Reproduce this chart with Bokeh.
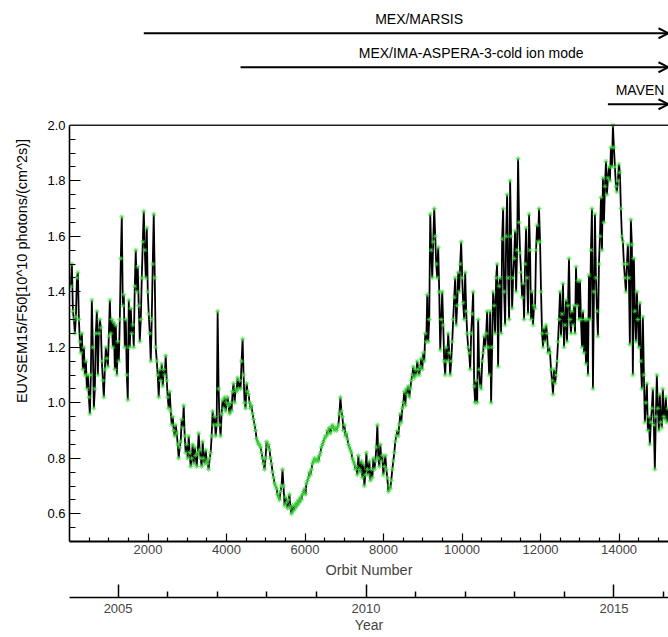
from bokeh.plotting import figure
from bokeh.models import (Range1d, LinearAxis, FixedTicker, PrintfTickFormatter,
                          Span, Arrow, OpenHead, Label, ColumnDataSource)
from bokeh.embed import file_html
from bokeh.resources import INLINE

# ---------------- data ----------------
orbit = [
    36, 61, 87, 112, 138, 163, 189, 214, 239, 265,
    290, 315, 341, 366, 392, 417, 443, 468, 493, 519,
    544, 569, 595, 620, 646, 671, 697, 722, 747, 773,
    799, 824, 850, 875, 901, 926, 952, 977, 1002, 1028,
    1053, 1078, 1104, 1129, 1155, 1180, 1206, 1231, 1256, 1282,
    1307, 1332, 1358, 1383, 1409, 1434, 1460, 1485, 1510, 1536,
    1561, 1586, 1612, 1637, 1663, 1688, 1714, 1739, 1764, 1790,
    1816, 1841, 1867, 1892, 1918, 1943, 1969, 1994, 2019, 2045,
    2070, 2095, 2121, 2146, 2172, 2197, 2223, 2248, 2273, 2299,
    2324, 2349, 2375, 2400, 2426, 2451, 2477, 2502, 2527, 2553,
    2579, 2604, 2630, 2655, 2681, 2706, 2732, 2757, 2782, 2808,
    2833, 2858, 2884, 2909, 2935, 2960, 2986, 3011, 3036, 3062,
    3087, 3112, 3138, 3163, 3189, 3214, 3240, 3265, 3290, 3316,
    3342, 3367, 3393, 3418, 3444, 3469, 3495, 3520, 3545, 3571,
    3596, 3621, 3647, 3672, 3698, 3723, 3749, 3774, 3799, 3825,
    3850, 3875, 3901, 3926, 3952, 3977, 4003, 4028, 4053, 4079,
    4104, 4129, 4155, 4180, 4206, 4231, 4257, 4282, 4307, 4333,
    4359, 4384, 4410, 4435, 4461, 4486, 4512, 4537, 4562, 4588,
    4613, 4638, 4664, 4689, 4715, 4740, 4766, 4791, 4816, 4842,
    4867, 4892, 4918, 4943, 4969, 4994, 5020, 5045, 5070, 5096,
    5122, 5147, 5173, 5198, 5224, 5249, 5275, 5300, 5325, 5351,
    5376, 5401, 5427, 5452, 5478, 5503, 5529, 5554, 5579, 5605,
    5630, 5655, 5681, 5706, 5732, 5757, 5783, 5808, 5833, 5859,
    5885, 5910, 5936, 5961, 5987, 6012, 6038, 6063, 6088, 6114,
    6139, 6164, 6190, 6215, 6241, 6266, 6292, 6317, 6342, 6368,
    6393, 6418, 6444, 6469, 6495, 6520, 6546, 6571, 6596, 6622,
    6647, 6672, 6698, 6723, 6749, 6774, 6800, 6825, 6850, 6876,
    6902, 6927, 6953, 6978, 7004, 7029, 7055, 7080, 7105, 7131,
    7156, 7181, 7207, 7232, 7258, 7283, 7309, 7334, 7359, 7385,
    7410, 7435, 7461, 7486, 7512, 7537, 7563, 7588, 7613, 7639,
    7665, 7690, 7716, 7741, 7767, 7792, 7818, 7843, 7868, 7894,
    7919, 7944, 7970, 7995, 8021, 8046, 8072, 8097, 8122, 8148,
    8173, 8198, 8224, 8249, 8275, 8300, 8326, 8351, 8376, 8402,
    8428, 8453, 8479, 8504, 8530, 8555, 8581, 8606, 8631, 8657,
    8682, 8707, 8733, 8758, 8784, 8809, 8835, 8860, 8885, 8911,
    8936, 8961, 8987, 9012, 9038, 9063, 9089, 9114, 9139, 9165,
    9190, 9215, 9241, 9266, 9292, 9317, 9343, 9368, 9393, 9419,
    9445, 9470, 9496, 9521, 9547, 9572, 9598, 9623, 9648, 9674,
    9699, 9724, 9750, 9775, 9801, 9826, 9852, 9877, 9902, 9928,
    9953, 9978, 10004, 10029, 10055, 10080, 10106, 10131, 10156, 10182,
    10208, 10233, 10259, 10284, 10310, 10335, 10361, 10386, 10411, 10437,
    10462, 10487, 10513, 10538, 10564, 10589, 10615, 10640, 10665, 10691,
    10716, 10741, 10767, 10792, 10818, 10843, 10869, 10894, 10919, 10945,
    10971, 10996, 11022, 11047, 11073, 11098, 11124, 11149, 11174, 11200,
    11225, 11250, 11276, 11301, 11327, 11352, 11378, 11403, 11428, 11454,
    11479, 11504, 11530, 11555, 11581, 11606, 11632, 11657, 11682, 11708,
    11733, 11758, 11784, 11809, 11835, 11860, 11886, 11911, 11936, 11962,
    11988, 12013, 12039, 12064, 12090, 12115, 12141, 12166, 12191, 12217,
    12242, 12267, 12293, 12318, 12344, 12369, 12395, 12420, 12445, 12471,
    12496, 12521, 12547, 12572, 12598, 12623, 12649, 12674, 12699, 12725,
    12751, 12776, 12802, 12827, 12853, 12878, 12904, 12929, 12954, 12980,
    13005, 13030, 13056, 13081, 13107, 13132, 13158, 13183, 13208, 13234,
    13259, 13284, 13310, 13335, 13361, 13386, 13412, 13437, 13462, 13488,
    13514, 13539, 13565, 13590, 13616, 13641, 13667, 13692, 13717, 13743,
    13768, 13793, 13819, 13844, 13870, 13895, 13921, 13946, 13971, 13997,
    14022, 14047, 14073, 14098, 14124, 14149, 14175, 14200, 14225, 14251,
    14276, 14301, 14327, 14352, 14378, 14403, 14429, 14454, 14479, 14505,
    14531, 14556, 14582, 14607, 14633, 14658, 14684, 14709, 14734, 14760,
    14785, 14810, 14836, 14861, 14887, 14912, 14938, 14963, 14988, 15014,
    15039, 15064, 15090, 15115, 15141, 15166, 15192, 15217, 15242,
]

euv = [
    1.42, 1.50, 1.33, 1.30, 1.25, 1.31, 1.45, 1.47, 1.30, 1.22,
    1.18, 1.25, 1.12, 1.20, 1.10, 1.15, 1.05, 1.10, 1.02, 0.96,
    1.10, 1.37, 1.20, 0.98, 1.05, 1.25, 1.33, 1.10, 1.25, 1.30,
    1.27, 1.15, 1.08, 1.02, 1.12, 1.20, 1.16, 1.13, 1.24, 1.37,
    1.25, 1.30, 1.20, 1.29, 1.12, 1.28, 1.10, 1.22, 1.15, 1.30,
    1.52, 1.67, 1.35, 1.39, 1.20, 1.30, 1.10, 1.01, 1.37, 1.20,
    1.34, 1.25, 1.28, 1.20, 1.42, 1.55, 1.40, 1.49, 1.35, 1.22,
    1.30, 1.45, 1.58, 1.69, 1.55, 1.45, 1.63, 1.40, 1.32, 1.25,
    1.15, 1.30, 1.50, 1.68, 1.45, 1.20, 1.15, 1.10, 1.02, 1.12,
    1.08, 1.14, 1.06, 1.12, 1.10, 1.17, 1.08, 1.02, 0.98, 1.04,
    0.97, 0.92, 0.95, 0.90, 0.88, 0.92, 0.89, 0.85, 0.80, 0.84,
    0.86, 0.94, 0.91, 0.99, 0.88, 0.82, 0.85, 0.80, 0.88, 0.82,
    0.77, 0.80, 0.85, 0.78, 0.84, 0.81, 0.77, 0.82, 0.89, 0.83,
    0.80, 0.77, 0.86, 0.80, 0.78, 0.83, 0.79, 0.78, 0.76, 0.80,
    0.82, 0.88, 0.97, 0.92, 0.95, 0.88, 0.92, 1.33, 1.05, 0.92,
    0.88, 0.96, 1.01, 0.98, 1.02, 0.97, 1.00, 1.02, 0.99, 0.96,
    1.00, 0.97, 1.04, 1.07, 1.00, 1.05, 1.04, 1.09, 1.05, 1.08,
    1.05, 1.15, 1.23, 1.10, 1.00, 0.98, 1.07, 1.04, 1.03, 1.00,
    0.98, 0.99, 0.96, 0.94, 0.92, 0.90, 0.87, 0.86, 0.85, 0.85,
    0.84, 0.82, 0.80, 0.78, 0.76, 0.80, 0.86, 0.84, 0.85, 0.83,
    0.80, 0.78, 0.75, 0.73, 0.71, 0.70, 0.69, 0.67, 0.66, 0.65,
    0.68, 0.70, 0.76, 0.70, 0.63, 0.66, 0.64, 0.62, 0.65, 0.67,
    0.62, 0.60, 0.63, 0.61, 0.63, 0.62, 0.64, 0.63, 0.65, 0.64,
    0.66, 0.65, 0.67, 0.68, 0.69, 0.67, 0.71, 0.72, 0.73, 0.75,
    0.74, 0.76, 0.78, 0.79, 0.80, 0.79, 0.79, 0.80, 0.79, 0.81,
    0.82, 0.84, 0.85, 0.86, 0.87, 0.88, 0.88, 0.90, 0.89, 0.91,
    0.89, 0.91, 0.92, 0.91, 0.90, 0.91, 0.90, 0.91, 0.92, 0.96,
    1.02, 0.97, 0.95, 0.90, 0.92, 0.88, 0.89, 0.87, 0.85, 0.84,
    0.83, 0.82, 0.80, 0.79, 0.78, 0.76, 0.77, 0.74, 0.81, 0.76,
    0.75, 0.79, 0.73, 0.78, 0.70, 0.74, 0.82, 0.76, 0.74, 0.79,
    0.72, 0.76, 0.73, 0.80, 0.76, 0.79, 0.84, 0.92, 0.80, 0.77,
    0.85, 0.79, 0.81, 0.74, 0.77, 0.81, 0.76, 0.73, 0.68, 0.70,
    0.69, 0.72, 0.76, 0.79, 0.82, 0.86, 0.88, 0.90, 0.88, 0.92,
    0.96, 0.93, 0.98, 1.00, 1.04, 0.99, 1.05, 1.03, 1.06, 1.02,
    1.05, 1.08, 1.10, 1.13, 1.09, 1.12, 1.10, 1.15, 1.12, 1.10,
    1.13, 1.16, 1.12, 1.18, 1.15, 1.25, 1.22, 1.39, 1.22, 1.30,
    1.68, 1.55, 1.45, 1.58, 1.70, 1.60, 1.50, 1.45, 1.56, 1.40,
    1.19, 1.30, 1.40, 1.28, 1.15, 1.10, 1.20, 1.15, 1.25, 1.18,
    1.10, 1.15, 1.22, 1.30, 1.38, 1.45, 1.28, 1.35, 1.47, 1.40,
    1.50, 1.58, 1.45, 1.36, 1.30, 1.47, 1.33, 1.25, 1.20, 1.18,
    1.12, 1.25, 1.32, 1.40, 1.06, 1.00, 1.08, 1.00, 1.30, 1.12,
    1.06, 1.05, 1.15, 1.18, 1.24, 1.20, 1.25, 1.33, 1.20, 1.10,
    1.33, 1.00, 1.20, 1.40, 1.35, 1.25, 1.45, 1.50, 1.13, 1.42,
    1.45, 1.25, 1.59, 1.70, 1.40, 1.28, 1.60, 1.75, 1.45, 1.30,
    1.80, 1.60, 1.34, 1.45, 1.52, 1.62, 1.40, 1.55, 1.88, 1.65,
    1.54, 1.47, 1.38, 1.43, 1.30, 1.50, 1.63, 1.45, 1.32, 1.68,
    1.55, 1.30, 1.40, 1.28, 1.35, 1.34, 1.55, 1.64, 1.58, 1.70,
    1.58, 1.40, 1.25, 1.20, 1.27, 1.22, 1.28, 1.25, 1.18, 1.20,
    1.18, 1.12, 1.08, 1.03, 1.12, 1.07, 1.10, 1.15, 1.22, 1.30,
    1.40, 1.24, 1.32, 1.43, 1.20, 1.28, 1.37, 1.22, 1.35, 1.52,
    1.30, 1.25, 1.33, 1.28, 1.35, 1.25, 1.49, 1.35, 1.44, 1.30,
    1.44, 1.30, 1.20, 1.33, 1.18, 1.30, 1.14, 1.30, 1.10, 1.46,
    1.30, 1.55, 1.70, 1.05, 1.40, 1.68, 1.45, 1.33, 1.24, 1.50,
    1.60, 1.74, 1.55, 1.81, 1.65, 1.78, 1.87, 1.75, 1.81, 1.85,
    1.80, 1.92, 1.85, 2.00, 1.92, 1.85, 1.78, 1.76, 1.80, 1.86,
    1.83, 1.70, 1.60, 1.58, 1.50, 1.45, 1.40, 1.50, 1.57, 1.45,
    1.21, 1.66, 1.57, 1.10, 1.52, 1.33, 1.22, 1.40, 1.30, 1.20,
    1.36, 1.15, 1.05, 1.31, 1.10, 0.93, 1.00, 1.07, 0.90, 0.95,
    0.85, 0.93, 0.98, 1.05, 0.92, 0.76, 0.95, 1.10, 0.98, 0.90,
    1.03, 0.93, 0.91, 1.05, 0.95, 0.94, 1.02, 0.93, 0.98,
]

missions = ["MEX/MARSIS", "MEX/IMA-ASPERA-3-cold ion mode", "MAVEN"]
mission_start_orbit = [1892, 4358, 13716]

orbit_ticks = [2000, 4000, 6000, 8000, 10000, 12000, 14000]
orbit_minor_ticks = [500, 1000, 1500, 2500, 3000, 3500, 4500, 5000, 5500, 6500, 7000,
                     7500, 8500, 9000, 9500, 10500, 11000, 11500, 12500, 13000, 13500,
                     14500, 15000]
y_ticks = [0.6, 0.8, 1.0, 1.2, 1.4, 1.6, 1.8, 2.0]
y_minor_ticks = [0.55, 0.65, 0.7, 0.75, 0.85, 0.9, 0.95, 1.05, 1.1, 1.15, 1.25, 1.3,
                 1.35, 1.45, 1.5, 1.55, 1.65, 1.7, 1.75, 1.85, 1.9, 1.95]
year_ticks = [2005, 2010, 2015]
year_minor_ticks = [2004, 2006, 2007, 2008, 2009, 2011, 2012, 2013, 2014, 2016]

# ---------------- layout ----------------
FONT = "Liberation Sans"
W, H = 668, 637
BORDER_LEFT, BORDER_BOTTOM = 69, 96
FRAME_H = H - BORDER_BOTTOM
X_START, X_END = 0, 15260
Y_BOTTOM, Y_SPINE = 0.5, 2.0
PX_PER_UNIT = 277.5
Y_TOP = Y_BOTTOM + FRAME_H / PX_PER_UNIT
YEAR_START, YEAR_END = 2004.02, 2016.10
SPACER_TICK = 100          # invisible tick that only reserves room between the axes

arrow_px_above_spine = [92, 58, 21]   # vertical placement of the arrows (pixels)
label_px_above_arrow = 14
label_center_orbit = [8906, 10233, 14536]


def px_to_y(px_above_spine):
    return Y_SPINE + px_above_spine / PX_PER_UNIT


p = figure(width=W, height=H, x_range=Range1d(X_START, X_END),
           y_range=Range1d(Y_BOTTOM, Y_TOP),
           output_backend="svg", toolbar_location=None,
           min_border_left=BORDER_LEFT, min_border_right=0,
           min_border_top=0, min_border_bottom=BORDER_BOTTOM)
p.outline_line_color = None
p.xgrid.visible = False
p.ygrid.visible = False
p.background_fill_color = "white"
p.border_fill_color = "white"

src = ColumnDataSource(dict(orbit=orbit, euv=euv))
p.line("orbit", "euv", source=src, line_color="black", line_width=1.8)
p.scatter("orbit", "euv", source=src, marker="asterisk", size=5,
          line_color="#44dd44", line_width=1, line_alpha=0.7)

# top spine at 2.0
p.add_layout(Span(location=Y_SPINE, dimension="width", line_color="#222222",
                  line_width=1.6))

# y axis
ya = p.yaxis[0]
ya.bounds = (Y_BOTTOM, Y_SPINE)
ya.ticker = FixedTicker(ticks=y_ticks, minor_ticks=y_minor_ticks)
ya.formatter = PrintfTickFormatter(format="%.1f")
ya.axis_label = "EUVSEM15/F50[10^10 photons/(cm^2s)]"
ya.axis_line_width = 1.6
ya.axis_line_color = "black"
ya.major_tick_in = 11
ya.major_tick_out = 0
ya.minor_tick_in = 6
ya.minor_tick_out = 0
ya.major_tick_line_width = 1.2
ya.minor_tick_line_width = 1.2
ya.major_label_standoff = 4
ya.major_label_text_font = FONT
ya.major_label_text_font_size = "13px"
ya.major_label_text_color = "black"
ya.axis_label_text_font = FONT
ya.axis_label_text_font_size = "14.5px"
ya.axis_label_text_font_style = "normal"
ya.axis_label_text_color = "black"
ya.axis_label_standoff = 14

# orbit axis
xa = p.xaxis[0]
xa.ticker = FixedTicker(ticks=orbit_ticks, minor_ticks=orbit_minor_ticks)
xa.formatter = PrintfTickFormatter(format="%d")
xa.axis_label = "Orbit Number"
xa.axis_line_width = 1.8
xa.axis_line_color = "black"
xa.major_tick_in = 8
xa.major_tick_out = 0
xa.minor_tick_in = 4
xa.minor_tick_out = 0
xa.major_tick_line_width = 1.2
xa.minor_tick_line_width = 1.2
xa.major_label_standoff = 3
xa.major_label_text_font = FONT
xa.major_label_text_font_size = "13px"
xa.axis_label_text_font = FONT
xa.axis_label_text_font_size = "14.5px"
xa.axis_label_text_font_style = "normal"
xa.axis_label_standoff = 5

# blank spacer between the two horizontal axes (white tick on white background)
spacer = LinearAxis(ticker=FixedTicker(ticks=[SPACER_TICK], minor_ticks=[]),
                    axis_line_color=None,
                    major_tick_out=17, major_tick_in=0, major_tick_line_color="white",
                    minor_tick_out=0, minor_tick_in=0, minor_tick_line_color=None,
                    major_label_standoff=0, major_label_text_font_size="1px",
                    major_label_text_color="white",
                    major_label_overrides={SPACER_TICK: ""})
p.add_layout(spacer, "below")

# year axis
p.extra_x_ranges = {"year": Range1d(YEAR_START, YEAR_END)}
yr = LinearAxis(x_range_name="year", axis_label="Year",
                ticker=FixedTicker(ticks=year_ticks, minor_ticks=year_minor_ticks),
                formatter=PrintfTickFormatter(format="%d"))
yr.axis_line_width = 1.5
yr.axis_line_color = "black"
yr.major_tick_in = 13
yr.major_tick_out = 0
yr.minor_tick_in = 6
yr.minor_tick_out = 0
yr.major_tick_line_width = 1.5
yr.minor_tick_line_width = 1.5
yr.major_label_standoff = 6
yr.major_label_text_font = FONT
yr.major_label_text_font_size = "13px"
yr.axis_label_text_font = FONT
yr.axis_label_text_font_size = "14px"
yr.axis_label_text_font_style = "normal"
yr.axis_label_standoff = 1
p.add_layout(yr, "below")

# mission arrows
for name, start, off, lx in zip(missions, mission_start_orbit,
                                arrow_px_above_spine, label_center_orbit):
    ya_ = px_to_y(off)
    p.add_layout(Arrow(end=OpenHead(size=10, line_width=2, line_color="black"),
                       x_start=start, y_start=ya_, x_end=X_END, y_end=ya_,
                       line_width=2, line_color="black"))
    p.add_layout(Label(x=lx, y=px_to_y(off + label_px_above_arrow), text=name,
                       text_align="center", text_baseline="middle",
                       text_font=FONT, text_font_size="14px", text_color="black"))

open("out.html", "w").write(file_html(p, INLINE))
